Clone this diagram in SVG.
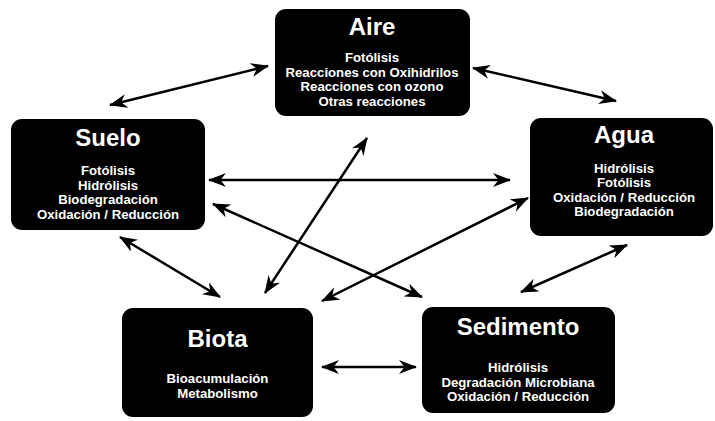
<svg xmlns="http://www.w3.org/2000/svg" width="715" height="421" viewBox="0 0 715 421">
<style>
.box{fill:#000;}
.t{font-family:"Liberation Sans",Arial,sans-serif;font-weight:bold;fill:#fff;text-anchor:middle;}
.title{font-size:24px;}
.sub{font-size:13.2px;}
.c{stroke:#000;stroke-width:2.5;fill:none;marker-start:url(#ah);marker-end:url(#ah);}
</style>
<defs>
<marker id="ah" viewBox="0 0 18 14" refX="17" refY="7" markerWidth="18" markerHeight="14" markerUnits="userSpaceOnUse" orient="auto-start-reverse">
<path d="M18,7 L0,0 L5.5,7 L0,14 Z" fill="#000"/>
</marker>
</defs>
<rect width="715" height="421" fill="#fff"/>
<g id="connectors">
<line class="c" x1="110" y1="105" x2="268" y2="66"/>
<line class="c" x1="473" y1="68" x2="616" y2="101"/>
<line class="c" x1="209" y1="180" x2="510" y2="180"/>
<line class="c" x1="213" y1="204" x2="422" y2="297"/>
<line class="c" x1="120" y1="237" x2="220" y2="297"/>
<line class="c" x1="265" y1="293" x2="367" y2="138"/>
<line class="c" x1="322" y1="301" x2="528" y2="198"/>
<line class="c" x1="322" y1="367" x2="416" y2="367"/>
<line class="c" x1="521" y1="292" x2="627" y2="245"/>
</g>
<g id="aire">
<rect class="box" x="275" y="9" width="195" height="107" rx="11"/>
<text class="t title" x="372" y="35">Aire</text>
<text class="t sub" x="372" y="62">Fotólisis</text>
<text class="t sub" x="372" y="76.5">Reacciones con Oxihidrilos</text>
<text class="t sub" x="372" y="91">Reacciones con ozono</text>
<text class="t sub" x="372" y="105.5">Otras reacciones</text>
</g>
<g id="suelo">
<rect class="box" x="11" y="119" width="194" height="111" rx="11"/>
<text class="t title" x="108" y="146">Suelo</text>
<text class="t sub" x="108" y="175">Fotólisis</text>
<text class="t sub" x="108" y="189.5">Hidrólisis</text>
<text class="t sub" x="108" y="204">Biodegradación</text>
<text class="t sub" x="108" y="219">Oxidación / Reducción</text>
</g>
<g id="agua">
<rect class="box" x="530" y="118" width="183" height="118" rx="11"/>
<text class="t title" x="624" y="143">Agua</text>
<text class="t sub" x="624" y="172.5">Hidrólisis</text>
<text class="t sub" x="624" y="187">Fotólisis</text>
<text class="t sub" x="624" y="201.5">Oxidación / Reducción</text>
<text class="t sub" x="624" y="216">Biodegradación</text>
</g>
<g id="biota">
<rect class="box" x="122" y="308" width="191" height="109" rx="11"/>
<text class="t title" x="217.5" y="347">Biota</text>
<text class="t sub" x="217.5" y="383">Bioacumulación</text>
<text class="t sub" x="217.5" y="397.5">Metabolismo</text>
</g>
<g id="sedimento">
<rect class="box" x="422" y="307" width="193" height="106" rx="11"/>
<text class="t title" x="518" y="335">Sedimento</text>
<text class="t sub" x="518" y="372">Hidrólisis</text>
<text class="t sub" x="518" y="386.5">Degradación Microbiana</text>
<text class="t sub" x="518" y="401">Oxidación / Reducción</text>
</g>
</svg>
